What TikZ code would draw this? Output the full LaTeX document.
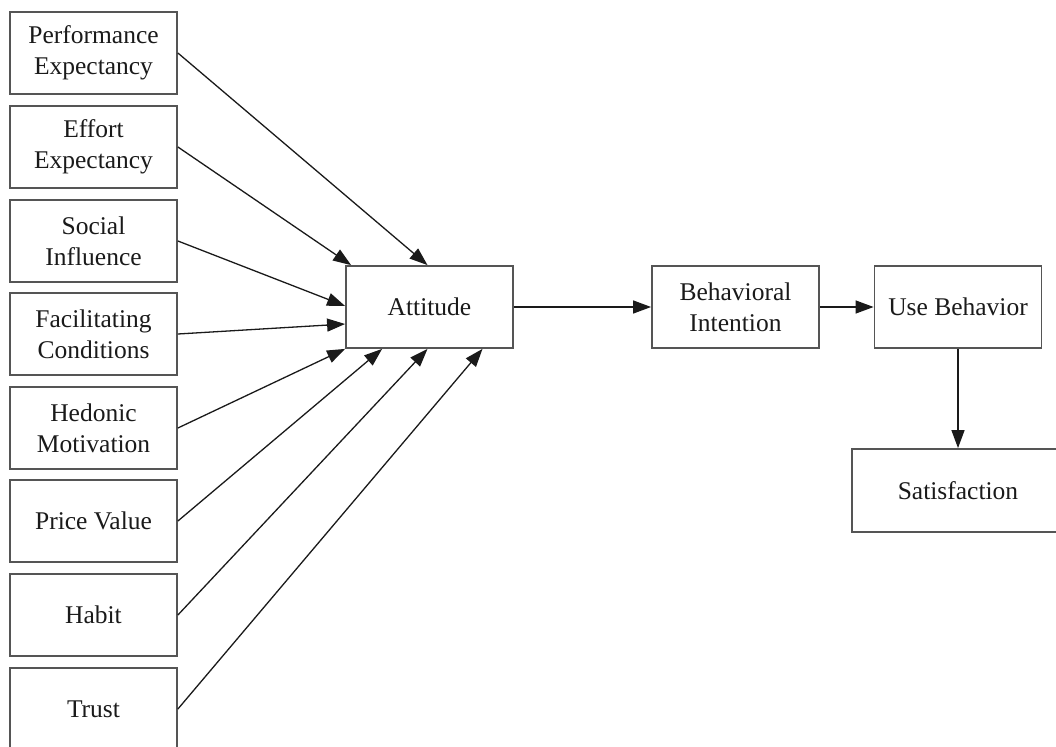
\documentclass[tikz,border=0pt]{standalone}
\usepackage{fontspec}
\setmainfont{Liberation Serif}
\usetikzlibrary{arrows.meta}
\definecolor{boxline}{HTML}{555555}
\definecolor{ink}{HTML}{1A1A1A}
\begin{document}
\begin{tikzpicture}[x=1pt,y=-1pt,
  construct/.style={draw=boxline, line width=1.8pt, fill=white,
    minimum width=167pt, minimum height=82pt, inner sep=0pt,
    align=center, text=ink, font=\fontsize{25.5}{31}\selectfont},
  link/.style={draw=ink, line width=1.3pt,
    -{Triangle[length=18pt,width=13pt]}}]
  \useasboundingbox (0,0) rectangle (1056,746);

  % predictors, stacked on the left
  \node[construct] (pe) at (93.5, 53)    {Performance\\Expectancy};
  \node[construct] (ee) at (93.5, 147)   {Effort\\Expectancy};
  \node[construct] (si) at (93.5, 241)   {Social\\Influence};
  \node[construct] (fc) at (93.5, 334)   {Facilitating\\Conditions};
  \node[construct] (hm) at (93.5, 428)   {Hedonic\\Motivation};
  \node[construct] (pv) at (93.5, 521)   {Price Value};
  \node[construct] (hb) at (93.5, 615)   {Habit};
  \node[construct] (tr) at (93.5, 709)   {Trust};

  % mediating and outcome constructs
  \node[construct] (att) at (429.5, 307) {Attitude};
  \node[construct] (bi)  at (735.5, 307) {Behavioral\\Intention};
  \node[construct] (ub)  at (958, 307)   {Use Behavior};
  \node[construct, minimum width=212pt, minimum height=83pt] (sat) at (958, 490.5) {Satisfaction};

  % paths into Attitude
  \draw[link] (pe.east) -- ([xshift=-2pt]att.north);
  \draw[link] (ee.east) -- ([xshift=6pt]att.north west);
  \draw[link] (si.east) -- ([yshift=1pt]att.west);
  \draw[link] (fc.east) -- ([yshift=-17pt]att.west);
  \draw[link] (hm.east) -- (att.south west);
  \draw[link] (pv.east) -- ([xshift=37pt]att.south west);
  \draw[link] (hb.east) -- ([xshift=-2pt]att.south);
  \draw[link] (tr.east) -- ([xshift=53pt]att.south);

  % main chain
  \draw[link] (att.east) -- (bi.west);
  \draw[link] (bi.east) -- (ub.west);
  \draw[link] (ub.south) -- (sat.north);
\end{tikzpicture}
\end{document}
